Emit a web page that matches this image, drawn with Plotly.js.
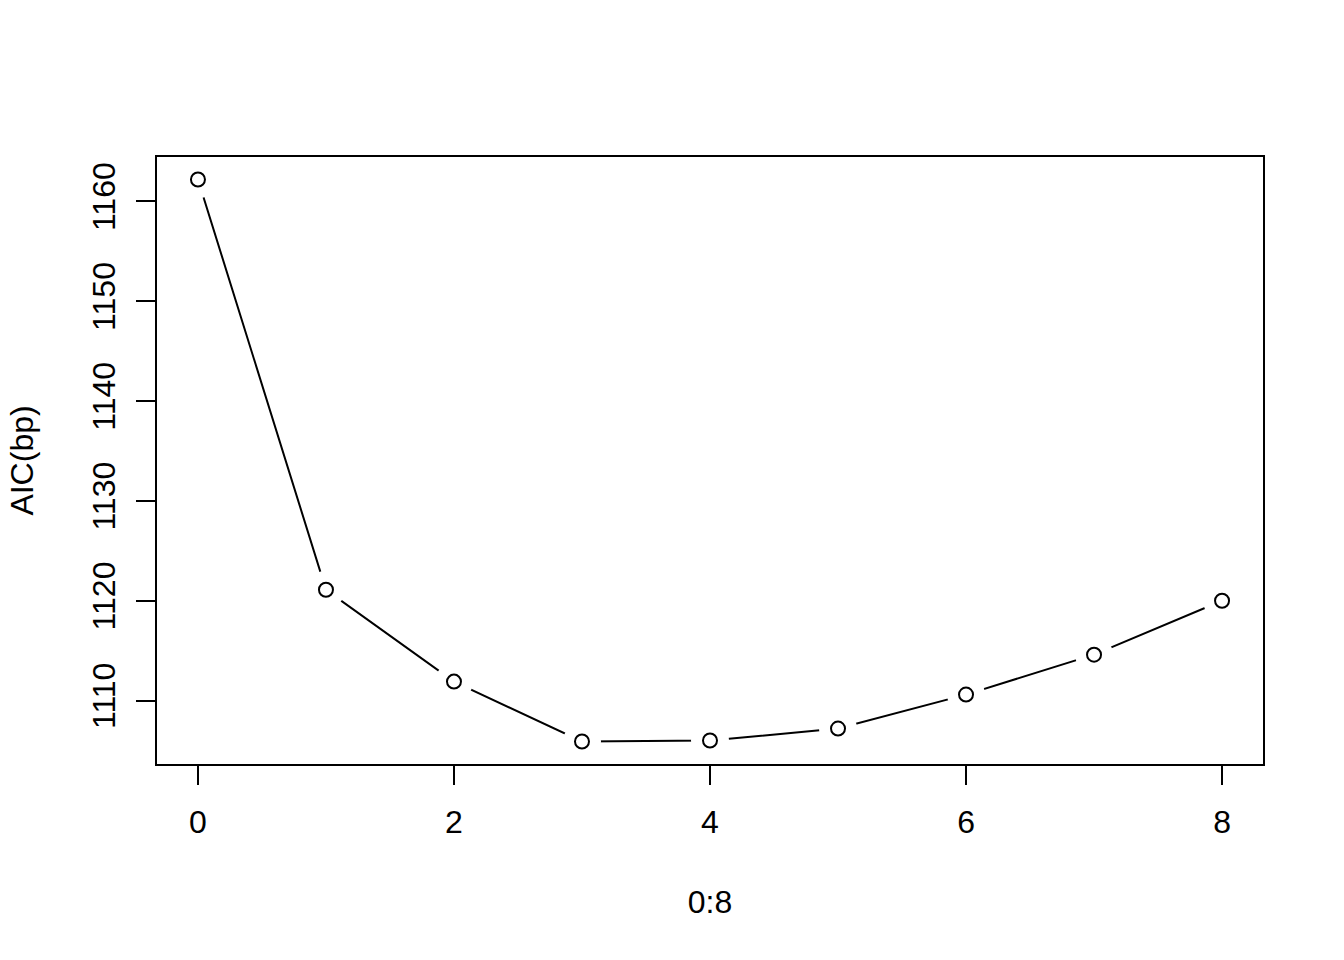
<!DOCTYPE html>
<html>
<head>
<meta charset="utf-8">
<script src="https://cdn.plot.ly/plotly-3.0.1.min.js"></script>
<style>html,body{margin:0;padding:0;background:#fff;}#chart{width:1344px;height:960px;}</style>
</head>
<body>
<div id="chart"></div>
<script>
const lags = [0, 1, 2, 3, 4, 5, 6, 7, 8];
const aicValues = [1162.2, 1121.1, 1111.9, 1105.9, 1106.0, 1107.2, 1110.6, 1114.6, 1120.0];
const xTitle = "0:8";
const yTitle = "AIC(bp)";

const font = {family: "Liberation Sans, Arial, Helvetica, sans-serif", size: 32, color: "#000"};

const xmin = Math.min(...lags), xmax = Math.max(...lags);
const ymin = Math.min(...aicValues), ymax = Math.max(...aicValues);
const xpad = (xmax - xmin) * 0.04, ypad = (ymax - ymin) * 0.04;

const traces = [
  {x: lags, y: aicValues, type: "scatter", mode: "lines", line: {color: "#000", width: 2}, hoverinfo: "skip"},
  {x: lags, y: aicValues, type: "scatter", mode: "markers", marker: {symbol: "circle", size: 38, color: "#fff", line: {width: 0}}, hoverinfo: "skip"},
  {x: lags, y: aicValues, type: "scatter", mode: "markers", marker: {symbol: "circle-open", size: 14, color: "#000", line: {width: 2, color: "#000"}}}
];

const layout = {
  width: 1344, height: 960,
  margin: {l: 157, r: 81, t: 157, b: 196},
  paper_bgcolor: "#fff", plot_bgcolor: "#fff",
  showlegend: false,
  font: font,
  xaxis: {
    range: [xmin - xpad, xmax + xpad],
    tick0: 0, dtick: 2,
    showgrid: false, zeroline: false,
    showline: true, mirror: true, linecolor: "#000", linewidth: 2,
    ticks: "outside", ticklen: 19, tickwidth: 2, tickcolor: "#000",
    ticklabelstandoff: 10,
    tickfont: font,
    title: {text: xTitle, font: font, standoff: 51}
  },
  yaxis: {
    range: [ymin - ypad, ymax + ypad],
    tick0: 1110, dtick: 10,
    showgrid: false, zeroline: false,
    showline: true, mirror: true, linecolor: "#000", linewidth: 2,
    ticks: "outside", ticklen: 19, tickwidth: 2, tickcolor: "#000",
    tickangle: -90,
    ticklabelstandoff: 8,
    tickfont: font,
    title: {text: yTitle, font: font, standoff: 43}
  }
};

Plotly.newPlot("chart", traces, layout, {staticPlot: true});
</script>
</body>
</html>
